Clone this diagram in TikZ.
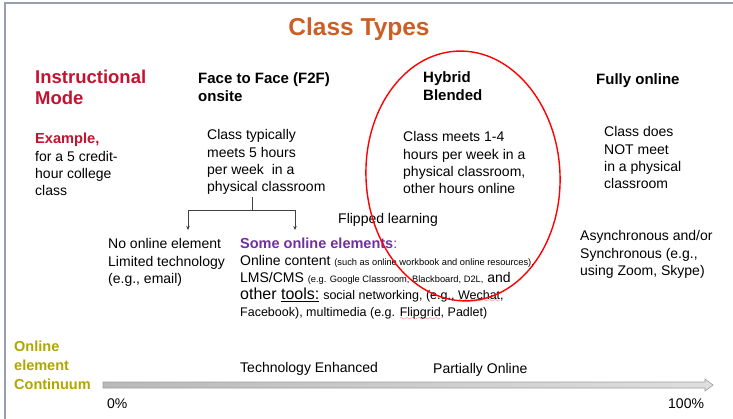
\documentclass[tikz,border=0pt]{standalone}
\usepackage{fontspec}
\setmainfont{Liberation Sans}
\usetikzlibrary{arrows.meta}

\definecolor{titleorange}{RGB}{204,94,38}
\definecolor{modered}{RGB}{196,18,48}
\definecolor{onlinepurple}{RGB}{112,48,160}
\definecolor{continuumolive}{RGB}{176,166,0}
\definecolor{framegray}{RGB}{150,160,176}

\newcommand{\fsz}[2]{\fontsize{#1}{#2}\selectfont}
\font\spellwave=lasy7
\newcommand{\spellmark}[1]{\setbox0\hbox{#1}\rlap{\lower3pt\hbox to\wd0{\color{red!85}\spellwave\xleaders\hbox{\char58}\hfil}}\box0}

\begin{document}
\begin{tikzpicture}[x=1pt,y=-1pt]

    \tikzset{
      txt/.style={
        anchor=base west,
        inner sep=0pt,
        align=left,
        font=\fsz{14}{17.25},
      },
      head/.style={txt, font=\bfseries\fsz{15}{18}},
      branch/.style={draw=black!75, line width=0.7pt},
    }
    \useasboundingbox (0,0) rectangle (733,419);
    \fill[white] (0,0) rectangle (733,419);
    \draw[framegray, line width=2pt] (5,419) -- (5,3) -- (733,3);

    % multi-line nodes sit on the baseline of their last line
    \node (title) at (359,35.8) [anchor=base, inner sep=0pt, font=\bfseries\fsz{24.5}{28}, text=titleorange] {Class Types};

    \node (mode) at (35,104.6) [head, font=\bfseries\fsz{18.5}{21}, text=modered] {Instructional\\Mode};
    \node (f2f) at (198,102) [head] {Face to Face (F2F)\\onsite};
    \node (hybrid) at (423,101) [head] {Hybrid\\Blended};
    \node (online) at (596,84.5) [head] {Fully online};

    \node (example) at (35,195.75) [txt] {\textcolor{modered}{\bfseries\fsz{14.6}{17.25}Example,}\\for a 5 credit-\\hour college\\class};
	\node (f2fbody) at (207,191.75) [txt] {Class typically\\meets 5 hours\\per week\ \ in a\\physical classroom};
	\node (hybridbody) at (403,193.75) [txt] {Class meets 1-4\\hours per week in a\\physical classroom,\\other hours online};
	\node (onlinebody) at (604,188.75) [txt] {Class does\\NOT meet\\in a physical\\classroom};

    % split below the F2F description
    \coordinate (stem) at (252,197);
    \coordinate (fork) at (252,210);
    \coordinate (noend) at (188,230);
    \coordinate (someend) at (295,230);
    \draw[branch] (stem) -- (fork);
    \draw[branch, -{Stealth[length=4pt,width=3.5pt]}] (fork) -| (noend);
    \draw[branch, -{Stealth[length=4pt,width=3.5pt]}] (fork) -| (someend);

    \node (flipped) at (338,224) [txt] {Flipped learning};
    \node (noonline) at (108,283.5) [txt] {No online element\\Limited technology\\(e.g., email)};
    \node (someonline) at (240,317) [txt] {\textcolor{onlinepurple}{\bfseries\fsz{14.5}{17.25}Some online elements}\textcolor{onlinepurple}{:}\\
      Online content {\fsz{9.3}{11}(such as online workbook and online resources),}\\
      LMS/CMS {\fsz{9.3}{11}(e.g. Google Classroom, Blackboard, D2L,} and\\
      {\fsz{16}{17.25}other \underline{tools:}} {\fsz{12.5}{15}social networking, (e.g., \spellmark{Wechat},}\\
      {\fsz{12.5}{15}Facebook), multimedia (e.g. \spellmark{Flipgrid}, Padlet)}};
    \node (sync) at (580,275.5) [txt] {Asynchronous and/or\\Synchronous (e.g.,\\using Zoom, Skype)};

    % hybrid ring
    \coordinate (ring) at (463,176);
    \draw[red, line width=1.4pt, rotate around={3:(ring)}] (ring) ellipse [x radius=97, y radius=125];

    % continuum bar
    \node (continuum) at (14,389) [txt, font=\bfseries\fsz{14.5}{19}, text=continuumolive] {Online\\element\\Continuum};
    \draw[draw=gray!75, left color=gray!55, right color=gray!25, line width=0.6pt]
      (103,382) -- (705,382) -- (705,379) -- (713,385) -- (705,391) -- (705,388) -- (103,388) -- cycle;
    \node (enhanced) at (240,372) [txt] {Technology Enhanced};
    \node (partial) at (433,373) [txt] {Partially Online};
    \node (zero) at (107,408) [txt] {0\%};
    \node (full) at (668,408) [txt] {100\%};

\end{tikzpicture}
\end{document}
